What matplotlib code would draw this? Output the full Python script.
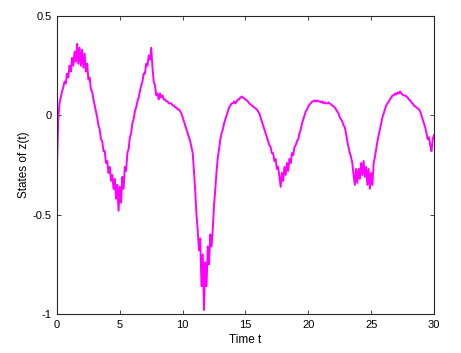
import numpy as np
import matplotlib.pyplot as plt

plt.rcParams['font.family'] = ['Liberation Sans', 'DejaVu Sans']

t = np.round(np.arange(0, 30.01, 0.1), 1)
z = [
    -0.26, -0.02, 0.06, 0.09, 0.12, 0.14, 0.17, 0.16, 0.21, 0.19,      # 0
    0.25, 0.22, 0.29, 0.25, 0.32, 0.27, 0.36, 0.26, 0.34, 0.25,        # 1
    0.33, 0.24, 0.31, 0.22, 0.26, 0.18, 0.19, 0.13, 0.12, 0.08,        # 2
    0.05, 0.02, -0.01, -0.05, -0.07, -0.12, -0.13, -0.18, -0.18, -0.24,  # 3
    -0.23, -0.29, -0.26, -0.33, -0.30, -0.37, -0.32, -0.42, -0.35, -0.48,  # 4
    -0.36, -0.44, -0.31, -0.37, -0.26, -0.28, -0.19, -0.17, -0.11, -0.09,  # 5
    -0.04, -0.02, 0.02, 0.04, 0.07, 0.09, 0.12, 0.15, 0.17, 0.21,      # 6
    0.21, 0.26, 0.25, 0.30, 0.28, 0.34, 0.24, 0.17, 0.15, 0.10,        # 7
    0.11, 0.08, 0.11, 0.09, 0.10, 0.08, 0.08, 0.07, 0.07, 0.06,        # 8
    0.06, 0.06, 0.05, 0.05, 0.04, 0.04, 0.03, 0.03, 0.02, 0.01,        # 9
    -0.01, -0.03, -0.05, -0.07, -0.09, -0.11, -0.13, -0.16, -0.19, -0.28,  # 10
    -0.38, -0.50, -0.58, -0.68, -0.62, -0.86, -0.70, -0.98, -0.74, -0.86,  # 11
    -0.66, -0.75, -0.60, -0.66, -0.57, -0.45, -0.37, -0.28, -0.21, -0.17,  # 12
    -0.12, -0.09, -0.07, -0.04, -0.02, 0.00, 0.02, 0.04, 0.05, 0.06,   # 13
    0.06, 0.07, 0.06, 0.07, 0.08, 0.08, 0.09, 0.095, 0.09, 0.085,      # 14
    0.08, 0.075, 0.07, 0.06, 0.055, 0.05, 0.045, 0.04, 0.035, 0.03,    # 15
    0.02, 0.01, -0.01, -0.03, -0.05, -0.07, -0.09, -0.11, -0.13, -0.15,  # 16
    -0.16, -0.19, -0.19, -0.23, -0.22, -0.27, -0.26, -0.31, -0.36, -0.29,  # 17
    -0.33, -0.26, -0.30, -0.24, -0.28, -0.22, -0.24, -0.19, -0.20, -0.16,  # 18
    -0.15, -0.13, -0.12, -0.09, -0.07, -0.04, -0.02, 0.00, 0.02, 0.03,  # 19
    0.045, 0.055, 0.06, 0.07, 0.07, 0.075, 0.07, 0.075, 0.07, 0.07,    # 20
    0.065, 0.07, 0.06, 0.065, 0.06, 0.06, 0.065, 0.06, 0.055, 0.05,    # 21
    0.045, 0.04, 0.03, 0.02, 0.01, -0.01, -0.02, -0.03, -0.05, -0.06,  # 22
    -0.09, -0.13, -0.16, -0.19, -0.21, -0.24, -0.30, -0.35, -0.27, -0.34,  # 23
    -0.27, -0.32, -0.24, -0.30, -0.23, -0.31, -0.26, -0.35, -0.27, -0.37,  # 24
    -0.29, -0.35, -0.24, -0.21, -0.17, -0.13, -0.10, -0.07, -0.04, -0.01,  # 25
    0.01, 0.03, 0.05, 0.06, 0.07, 0.08, 0.09, 0.10, 0.10, 0.11,        # 26
    0.105, 0.115, 0.11, 0.12, 0.11, 0.105, 0.10, 0.10, 0.095, 0.09,    # 27
    0.08, 0.075, 0.065, 0.06, 0.05, 0.045, 0.04, 0.035, 0.03, 0.02,    # 28
    0.00, -0.02, -0.04, -0.06, -0.09, -0.12, -0.11, -0.15, -0.18, -0.12,  # 29
    -0.10,                                                             # 30
]

xticks = [0, 5, 10, 15, 20, 25, 30]
yticks = [-1, -0.5, 0, 0.5]
ytick_labels = ['-1', '-0.5', '0', '0.5']

fig = plt.figure(figsize=(4.61, 3.53), dpi=100)
ax = fig.add_axes([0.1236, 0.1105, 0.8178, 0.8442])

ax.plot(t, z, color='#ff00ff', linewidth=1.4)

ax.set_xlim(0, 30)
ax.set_ylim(-1, 0.5)
ax.set_xticks(xticks)
ax.set_yticks(yticks)
ax.set_yticklabels(ytick_labels)
ax.tick_params(direction='in', top=True, right=True, length=3, width=0.6,
               labelsize=8, colors='#262626', labelcolor='black', pad=4)
for s in ax.spines.values():
    s.set_color('#262626')
    s.set_linewidth(0.8)

ax.set_xlabel('Time t', fontsize=8.5, labelpad=3)
ax.set_ylabel('States of z(t)', fontsize=8.5, labelpad=2)

fig.savefig('out.png', dpi=100)
